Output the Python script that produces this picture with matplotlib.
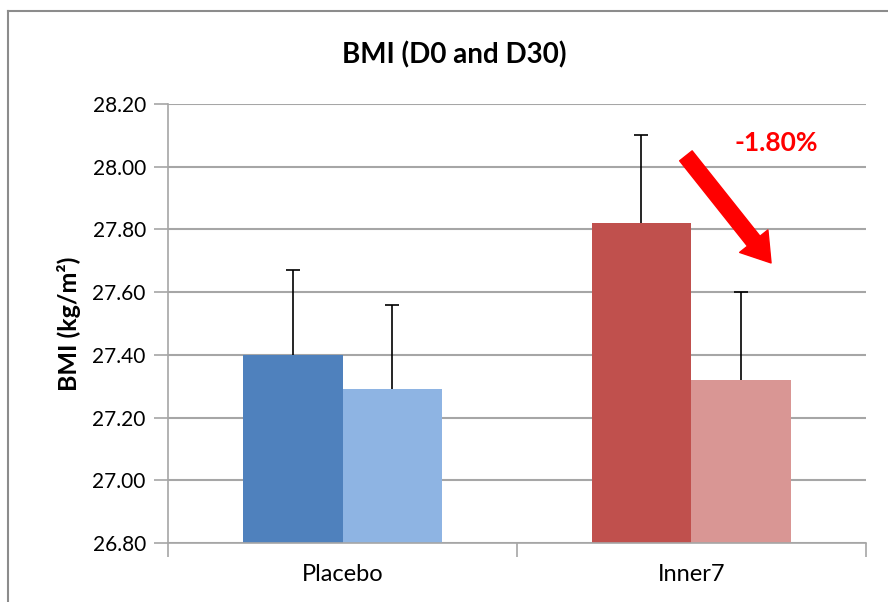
import matplotlib
matplotlib.use("Agg")
import matplotlib.pyplot as plt
from matplotlib.patches import FancyArrowPatch, ArrowStyle
from matplotlib.lines import Line2D

plt.rcParams["font.family"] = ["Lato", "DejaVu Sans"]

categories = ["Placebo", "Inner7"]
d0_means = [27.40, 27.82]
d30_means = [27.29, 27.32]
d0_sd = [0.27, 0.28]
d30_sd = [0.27, 0.28]
d0_colors = ["#4F81BD", "#C0504D"]
d30_colors = ["#8EB4E3", "#D99694"]
y_ticks = [26.80, 27.00, 27.20, 27.40, 27.60, 27.80, 28.00, 28.20]
change_label = "-1.80%"

fig = plt.figure(figsize=(8.88, 6.02), dpi=100)
ax = fig.add_axes([0.1892, 0.098, 0.786, 0.7292])

# outer chart border (left and top only visible in the crop)
fig.add_artist(Line2D([0.009, 0.009], [0.0, 0.982], transform=fig.transFigure, color="#8c8c8c", lw=1.5))
fig.add_artist(Line2D([0.009, 1.0], [0.982, 0.982], transform=fig.transFigure, color="#8c8c8c", lw=1.5))

width = 0.2865
centers = [0.5, 1.5]
grid_color = "#a6a6a6"


def upper_error(x, mean, sd):
    # one-sided error bar: stem from the bar top plus a cap at the top only
    ax.vlines(x, mean, mean + sd, color="black", lw=1.2, zorder=3)
    ax.plot([x], [mean + sd], marker="_", markersize=9.5, mew=1.2, color="black", zorder=3)


for i, c in enumerate(centers):
    ax.bar(c - width / 2, d0_means[i] - y_ticks[0], width, bottom=y_ticks[0], color=d0_colors[i], zorder=2)
    ax.bar(c + width / 2, d30_means[i] - y_ticks[0], width, bottom=y_ticks[0], color=d30_colors[i], zorder=2)
    upper_error(c - width / 2, d0_means[i], d0_sd[i])
    upper_error(c + width / 2, d30_means[i], d30_sd[i])

ax.set_xlim(0, 2)
ax.set_ylim(y_ticks[0], y_ticks[-1])
ax.set_yticks(y_ticks)
ax.set_yticklabels([f"{v:.2f}" for v in y_ticks], fontsize=15)
ax.set_xticks([0, 1, 2])
ax.set_xticklabels(["", "", ""])
ax.set_xticks(centers, minor=True)
ax.set_xticklabels(categories, minor=True, fontsize=17)
ax.tick_params(axis="x", which="minor", length=0, pad=15)
ax.tick_params(axis="x", which="major", length=10, color=grid_color, width=1.2)
ax.tick_params(axis="y", length=10, color=grid_color, width=1.2, pad=6)

ax.yaxis.grid(True, color=grid_color, lw=1.5, zorder=0)
ax.set_axisbelow(True)
for side in ["top", "right"]:
    ax.spines[side].set_visible(False)
for side in ["left", "bottom"]:
    ax.spines[side].set_color(grid_color)
    ax.spines[side].set_linewidth(1.2)

ax.set_ylabel("BMI (kg/m²)", fontsize=18, fontweight="bold", labelpad=8)
fig.text(0.5113, 0.9086, "BMI (D0 and D30)", ha="center", va="center", fontsize=20, fontweight="bold")

arrow = FancyArrowPatch((0.742, 0.882), (0.864, 0.638), transform=ax.transAxes,
                        arrowstyle=ArrowStyle.Simple(head_length=20, head_width=26, tail_width=11.5),
                        mutation_scale=1, color="#FF0000", shrinkA=0, shrinkB=0, zorder=4)
ax.add_patch(arrow)
ax.text(0.871, 0.912, change_label, transform=ax.transAxes, ha="center", va="center",
        color="#FF0000", fontsize=19, fontweight="bold")

fig.savefig("out.png", dpi=100)
